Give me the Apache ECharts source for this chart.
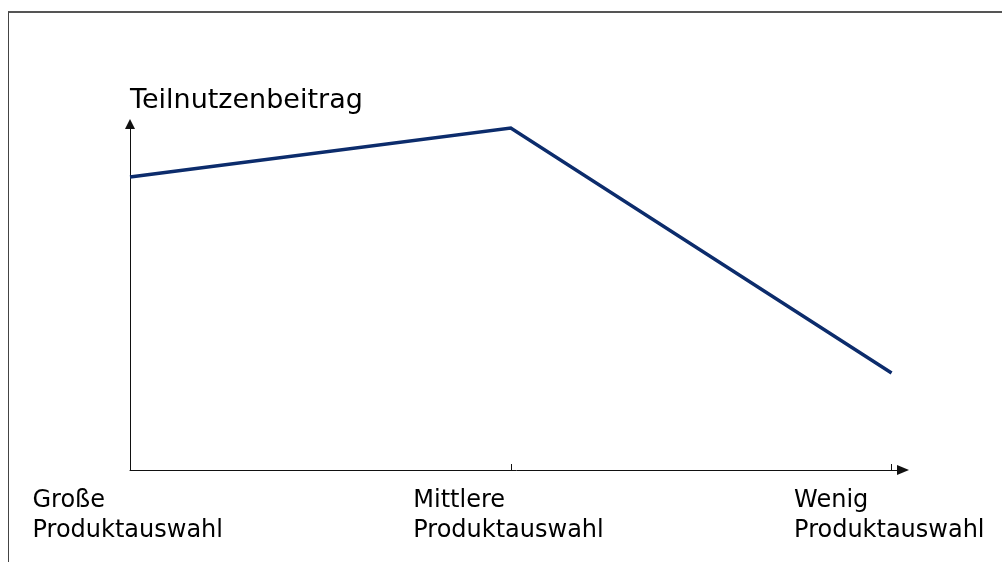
<!DOCTYPE html>
<html>
<head>
<meta charset="utf-8">
<script src="https://cdn.jsdelivr.net/npm/echarts@6/dist/echarts.min.js"></script>
<style>
  html, body { margin: 0; padding: 0; background: #fff; }
  #frame {
    position: absolute; left: 8px; top: 11px; width: 1010px; height: 570px;
    border-left: 1px solid #444; border-top: 2px solid #555;
  }
  #chart { position: absolute; left: 0; top: 0; width: 1002px; height: 562px; }
</style>
</head>
<body>
<div id="frame"></div>
<div id="chart"></div>
<script>
// x positions of the three levels and their labels
const levels = [0, 1, 2];
const levelNames = ['Große', 'Mittlere', 'Wenig'];
const levelSuffix = 'Produktauswahl';
// part-worth utility (arbitrary units)
const utility = [293, 342, 97];
const yMax = 346;
const xMax = 2.03;

const font = 'DejaVu Sans';
const chart = echarts.init(document.getElementById('chart'));

const option = {
  animation: false,
  grid: {
    left: 130,
    right: 99,
    top: 124,
    bottom: 92,
    containLabel: false,
    outerBoundsMode: 'none',
  },
  xAxis: {
    type: 'value',
    min: 0,
    max: xMax,
    interval: 1,
    splitLine: { show: false },
    axisLine: {
      show: true,
      lineStyle: { color: '#111', width: 1 },
      symbol: ['none', 'triangle'],
      symbolSize: [10, 12],
    },
    axisTick: {
      show: true,
      inside: true,
      length: 6,
      customValues: [1, 2],
      lineStyle: { color: '#111' },
    },
    axisLabel: {
      show: true,
      customValues: levels,
      margin: 16,
      align: 'center',
      verticalAlign: 'top',
      formatter: (v) => {
        const i = Math.round(v);
        return '{a|' + levelNames[i] + '}\n{a|' + levelSuffix + '}';
      },
      rich: {
        a: {
          width: 195,
          align: 'left',
          fontSize: 24,
          lineHeight: 30,
          fontFamily: font,
          color: '#000',
        },
      },
    },
  },
  yAxis: {
    type: 'value',
    min: 0,
    max: yMax,
    name: 'Teilnutzenbeitrag',
    nameLocation: 'end',
    nameGap: 8,
    nameTextStyle: {
      align: 'left',
      verticalAlign: 'bottom',
      fontSize: 27,
      lineHeight: 30,
      fontFamily: font,
      color: '#000',
    },
    splitLine: { show: false },
    axisTick: { show: false },
    axisLabel: { show: false },
    axisLine: {
      show: true,
      lineStyle: { color: '#111', width: 1 },
      symbol: ['none', 'triangle'],
      symbolSize: [10, 10],
    },
  },
  series: [
    {
      type: 'line',
      data: levels.map((x, i) => [x, utility[i]]),
      showSymbol: false,
      lineStyle: { color: '#0c2c6c', width: 3.5, join: 'miter' },
      itemStyle: { color: '#0c2c6c' },
    },
  ],
};

chart.setOption(option);
</script>
</body>
</html>
